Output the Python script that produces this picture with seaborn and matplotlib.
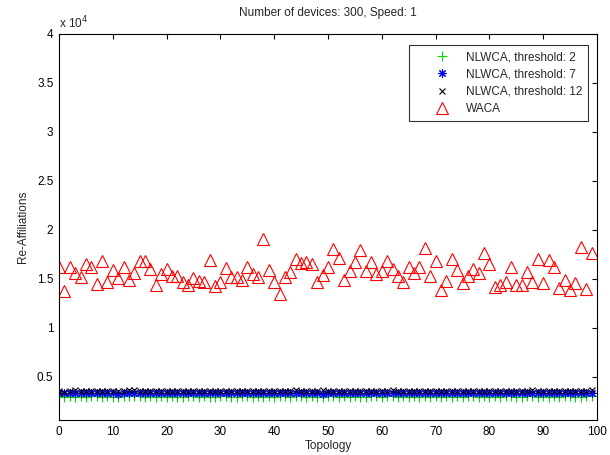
import numpy as np
import pandas as pd
import matplotlib
matplotlib.use('Agg')
import matplotlib.pyplot as plt
import seaborn as sns

topology = list(range(100))

waca = [1.625, 1.38, 1.625, 1.56, 1.52, 1.65, 1.625, 1.45, 1.68, 1.47,
        1.59, 1.51, 1.625, 1.49, 1.56, 1.68, 1.68, 1.60, 1.44, 1.55,
        1.60, 1.53, 1.53, 1.47, 1.44, 1.51, 1.48, 1.47, 1.69, 1.43,
        1.47, 1.61, 1.52, 1.52, 1.49, 1.62, 1.55, 1.52, 1.91, 1.59,
        1.47, 1.35, 1.52, 1.57, 1.70, 1.66, 1.67, 1.65, 1.47, 1.54,
        1.625, 1.81, 1.71, 1.49, 1.58, 1.67, 1.80, 1.58, 1.67, 1.55,
        1.58, 1.68, 1.60, 1.53, 1.47, 1.62, 1.56, 1.625, 1.82, 1.53,
        1.68, 1.39, 1.48, 1.70, 1.59, 1.46, 1.53, 1.60, 1.56, 1.76,
        1.65, 1.42, 1.44, 1.47, 1.625, 1.44, 1.44, 1.57, 1.47, 1.70,
        1.46, 1.69, 1.625, 1.41, 1.49, 1.39, 1.46, 1.83, 1.40, 1.76]
waca = [v * 1e4 for v in waca]

nl_t2 = [3000, 2960, 3030, 2990, 3010, 2950, 3020, 3000, 2970, 3010,
         2990, 2940, 3000, 3020, 3030, 3010, 2990, 3000, 2960, 3010,
         2970, 3000, 2950, 2990, 3020, 3000, 2970, 3010, 2990, 2960,
         3000, 3020, 2990, 2970, 3000, 3010, 2960, 3000, 2990, 3020,
         2970, 3000, 3010, 2990, 3040, 3000, 2970, 3010, 2990, 2940,
         3000, 3020, 2990, 3010, 2970, 3000, 2990, 2960, 3010, 3000,
         2970, 3020, 3040, 2990, 3000, 2930, 3010, 2970, 3000, 2990,
         3010, 2960, 3000, 2990, 3020, 2970, 3000, 3010, 2960, 3000,
         2990, 3010, 2970, 3000, 3020, 2990, 2960, 3000, 3010, 2970,
         3000, 2990, 3010, 2970, 3000, 3020, 2960, 2990, 3010, 3000]

nl_t7 = [3340, 3320, 3370, 3350, 3330, 3360, 3340, 3310, 3350, 3330,
         3360, 3300, 3340, 3370, 3380, 3350, 3340, 3360, 3320, 3350,
         3330, 3350, 3310, 3340, 3360, 3350, 3330, 3350, 3340, 3320,
         3350, 3360, 3340, 3330, 3350, 3360, 3320, 3350, 3340, 3360,
         3330, 3350, 3360, 3340, 3400, 3350, 3330, 3360, 3340, 3300,
         3350, 3370, 3340, 3350, 3330, 3350, 3340, 3320, 3360, 3350,
         3330, 3370, 3400, 3340, 3350, 3310, 3360, 3330, 3350, 3340,
         3360, 3320, 3350, 3340, 3370, 3330, 3350, 3360, 3320, 3350,
         3340, 3360, 3330, 3350, 3370, 3340, 3320, 3350, 3360, 3330,
         3350, 3340, 3360, 3330, 3350, 3370, 3320, 3340, 3360, 3380]

nl_t12 = [3580, 3500, 3560, 3640, 3570, 3540, 3600, 3550, 3520, 3590,
          3560, 3510, 3570, 3620, 3640, 3580, 3560, 3600, 3530, 3570,
          3550, 3590, 3520, 3560, 3610, 3570, 3540, 3580, 3560, 3530,
          3570, 3600, 3550, 3540, 3580, 3600, 3530, 3570, 3560, 3600,
          3540, 3570, 3590, 3560, 3660, 3580, 3540, 3590, 3560, 3700,
          3570, 3610, 3550, 3580, 3540, 3570, 3560, 3530, 3590, 3570,
          3540, 3600, 3660, 3550, 3570, 3520, 3590, 3540, 3570, 3560,
          3590, 3530, 3570, 3560, 3610, 3540, 3570, 3590, 3530, 3570,
          3550, 3590, 3540, 3570, 3600, 3550, 3530, 3570, 3620, 3540,
          3570, 3560, 3590, 3540, 3570, 3610, 3530, 3560, 3590, 3620]

df = pd.DataFrame({'Topology': topology, 'waca': waca,
                   't2': nl_t2, 't7': nl_t7, 't12': nl_t12})

sns.set_style('white')
plt.rcParams['font.family'] = ['Liberation Sans', 'DejaVu Sans']
plt.rcParams['font.size'] = 8.5

fig = plt.figure(figsize=(6.1, 4.55), dpi=100)
ax = fig.add_axes([0.0967, 0.0769, 0.882, 0.8484])

sns.lineplot(data=df, x='Topology', y='t2', ax=ax, linestyle='', marker='+',
             color='#00dd00', mec='#00dd00', ms=7, mew=0.8,
             label='NLWCA, threshold: 2', errorbar=None)
sns.lineplot(data=df, x='Topology', y='t7', ax=ax, linestyle='', marker=(8, 2, 0),
             color='blue', mec='blue', ms=6, mew=0.8,
             label='NLWCA, threshold: 7', errorbar=None)
sns.lineplot(data=df, x='Topology', y='t12', ax=ax, linestyle='', marker='x',
             color='black', mec='black', ms=4, mew=0.8,
             label='NLWCA, threshold: 12', errorbar=None)
sns.lineplot(data=df, x='Topology', y='waca', ax=ax, linestyle='', marker='^',
             color='red', mfc='none', mec='red', ms=8.5, mew=0.8,
             label='WACA', errorbar=None)

ax.set_xlim(0, 100)
ax.set_ylim(600, 40000)
ax.set_xticks(range(0, 101, 10))
yt = [5000 * i for i in range(1, 9)]
ax.set_yticks(yt)
ax.set_yticklabels([f'{v / 1e4:g}' for v in yt])
ax.tick_params(direction='in', length=3.5, width=0.8, top=True, right=True,
               labelsize=8.5, colors='black', pad=4)
for s in ax.spines.values():
    s.set_color('black')
    s.set_linewidth(0.8)

ax.text(0.0, 1.008, r'x 10$^4$', transform=ax.transAxes, ha='left', va='bottom', fontsize=8.5)
ax.set_title('Number of devices: 300, Speed: 1', fontsize=8.5, pad=13)
ax.set_xlabel('Topology', labelpad=2)
ax.set_ylabel('Re-Affiliations', labelpad=6)

leg = ax.legend(loc='upper right', bbox_to_anchor=(0.983, 0.971), borderaxespad=0,
                fontsize=8.5, frameon=True, fancybox=False, edgecolor='black',
                handletextpad=-0.3, borderpad=0.5, labelspacing=0.45, handlelength=4.6)
leg.get_frame().set_linewidth(0.8)

fig.savefig('out.png', dpi=100)
